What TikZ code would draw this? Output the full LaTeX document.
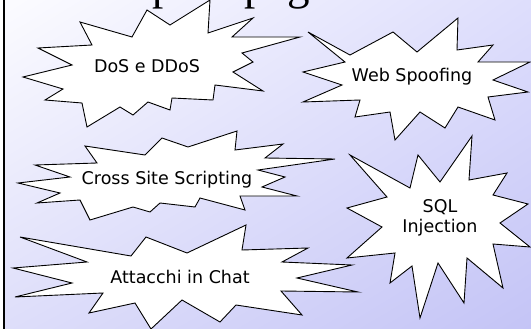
\documentclass[tikz,border=0pt]{standalone}
\usepackage{fontspec}
\usetikzlibrary{shadings}
\setmainfont{Liberation Serif}
\newfontfamily\burstfont{DejaVu Sans}
\definecolor{bgul}{RGB}{252,252,255}
\definecolor{bgur}{RGB}{222,222,252}
\definecolor{bgll}{RGB}{222,222,250}
\definecolor{bglr}{RGB}{196,196,246}
\tikzset{
  burst/.style={draw=black, fill=white, line width=0.9pt, line join=miter},
  burstlabel/.style={font=\burstfont\fontsize{17.5}{19.5}\selectfont, inner sep=0pt, align=center}
}
\begin{document}
\begin{tikzpicture}[x=1pt,y=-1pt]
\useasboundingbox (0,0) rectangle (531,329);
\clip (0,0) rectangle (531,329);

% Drawing slide background
\shade[upper left=bgul, upper right=bgur, lower left=bgll, lower right=bglr] (0,0) rectangle (531,329);%
\fill[white] (0,0) rectangle (3,329);%
\draw[line width=2pt] (4,0) -- (4,329);%

% Drawing title (cut off by the top edge)
\node[overlay, anchor=base west, inner sep=0pt, font=\fontsize{45}{50}\selectfont] (title) at (52,-0.5) {Esempi di pagine};%

% Drawing burst DoS
\draw[burst] (80,22) -- (92,45) -- (38,48) -- (72,65) -- (23,77) -- (63,89) -- (45,100) -- (82,103) -- (87,127) -- (120,107) -- (133,115) -- (148,102) -- (170,110) -- (172,98) -- (213,100) -- (215,85) -- (263,91) -- (233,72) -- (253,62) -- (242,53) -- (300,37) -- (232,37) -- (253,18) -- (208,33) -- (210,0) -- (170,25) -- (147,10) -- (132,37) -- cycle;%
\node[burstlabel, anchor=base] (dos) at (147,73) {DoS e DDoS};%

% Drawing burst Web Spoofing
\draw[burst] (308,32) -- (350,55) -- (393,32) -- (417,52) -- (458,18) -- (457,50) -- (493,45) -- (478,62) -- (530,62) -- (493,80) -- (528,92) -- (488,97) -- (495,120) -- (458,107) -- (445,128) -- (420,112) -- (395,140) -- (390,112) -- (355,117) -- (360,100) -- (303,102) -- (342,85) -- (303,72) -- (345,62) -- cycle;%
\node[burstlabel, anchor=base] (web) at (412,82) {Web Spoofing};%

% Drawing burst Cross Site Scripting
\draw[burst] (85,146) -- (97,163) -- (35,165) -- (70,177) -- (18,183) -- (60,193) -- (37,203) -- (80,200) -- (90,220) -- (133,207) -- (150,212) -- (160,203) -- (195,207) -- (200,198) -- (245,210) -- (240,196) -- (297,196) -- (262,187) -- (285,177) -- (258,170) -- (335,159) -- (265,158) -- (283,144) -- (235,150) -- (237,131) -- (188,147) -- (162,138) -- (145,155) -- cycle;%
\node[burstlabel, anchor=base] (xss) at (167,184.5) {Cross Site Scripting};%

% Drawing burst Attacchi in Chat
\draw[burst] (20,237) -- (87,262) -- (13,268) -- (72,283) -- (15,297) -- (103,293) -- (89,313) -- (135,303) -- (151,329) -- (182,300) -- (220,322) -- (236,305) -- (302,315) -- (281,291) -- (358,292) -- (297,278) -- (352,265) -- (282,262) -- (308,248) -- (242,250) -- (246,225) -- (187,253) -- (146,237) -- (131,256) -- cycle;%
\node[burstlabel, anchor=base] (chat) at (180,283) {Attacchi in Chat};%

% Drawing burst SQL Injection
\draw[burst] (350,155) -- (410,188) -- (418,155) -- (440,182) -- (472,136) -- (469,180) -- (507,173) -- (493,195) -- (528,204) -- (500,223) -- (530,247) -- (493,244) -- (503,288) -- (467,258) -- (464,303) -- (438,263) -- (420,318) -- (412,266) -- (390,283) -- (395,253) -- (347,258) -- (382,227) -- (347,208) -- (387,197) -- cycle;%
\node[burstlabel] (sql) at (440,218) {SQL\\Injection};%
\end{tikzpicture}
\end{document}
